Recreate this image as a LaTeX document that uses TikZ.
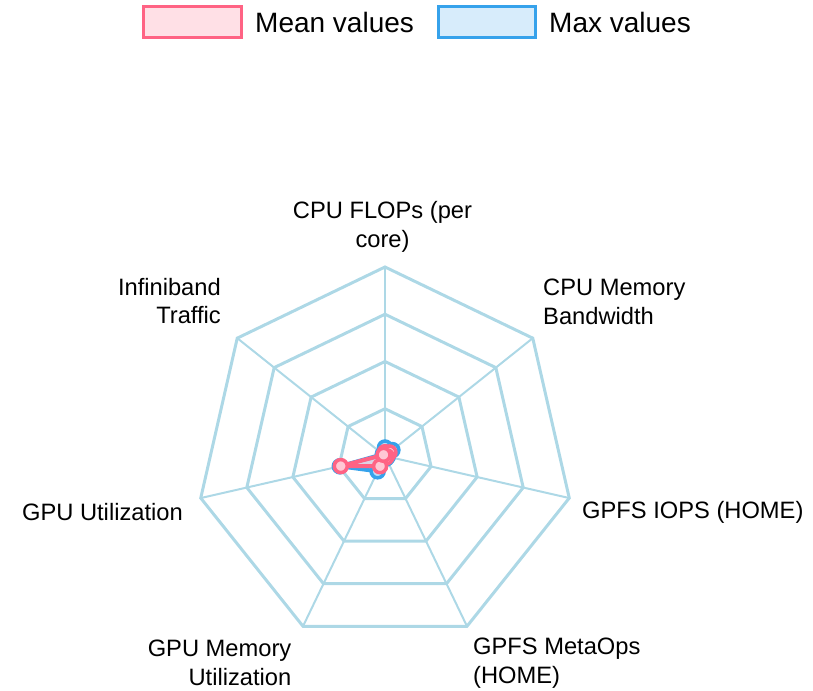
\documentclass[tikz,border=0pt]{standalone}
\usepackage{fontspec}
\setmainfont{Liberation Sans}
\definecolor{gridblue}{HTML}{ADD8E6}
\definecolor{meanpink}{HTML}{FF6384}
\definecolor{maxblue}{HTML}{36A2EB}
\begin{document}
\begin{tikzpicture}[x=1pt,y=1pt,
  ring/.style={draw=gridblue,line width=3pt,line join=miter},
  spoke/.style={draw=gridblue,line width=2pt},
  lbl/.style={inner sep=0pt,font=\fontsize{23.7}{28.5}\selectfont},
  legtext/.style={inner sep=0pt,anchor=west,font=\fontsize{28}{34}\selectfont},
  meanline/.style={draw=meanpink,line width=4pt,fill=meanpink,fill opacity=0.2,line join=round},
  maxline/.style={draw=maxblue,line width=4pt,fill=maxblue,fill opacity=0.2,line join=round},
  meanpt/.style={draw=meanpink,line width=3.5pt,fill=meanpink!35},
  maxpt/.style={draw=maxblue,line width=3.5pt,fill=maxblue!35}]
\useasboundingbox (0,0) rectangle (813,690);
\coordinate (C) at (385,234);
\def\R{189}
% grid
\foreach \i in {0,...,6}
  \draw[spoke] (C) -- ([shift={(C)}]{90-\i*360/7}:\R);
\foreach \k in {1,...,4}
  \draw[ring] ([shift={(C)}]90:{\k*\R/4})
    \foreach \i in {1,...,6}{ -- ([shift={(C)}]{90-\i*360/7}:{\k*\R/4})} -- cycle;
% axis labels
\node[lbl,align=center] (l0) at (382.5,463) {CPU FLOPs (per\\core)};
\node[lbl,align=left,anchor=west] (l1) at (543,388) {CPU Memory\\Bandwidth};
\node[lbl,anchor=west] (l2) at (582,178) {GPFS IOPS (HOME)};
\node[lbl,align=left,anchor=west] (l3) at (473,27) {GPFS MetaOps\\(HOME)};
\node[lbl,align=right,anchor=east] (l4) at (291.5,27) {GPU Memory\\Utilization};
\node[lbl,anchor=east] (l5) at (183,178) {GPU Utilization};
\node[lbl,align=right,anchor=east] (l6) at (221,389) {Infiniband\\Traffic};
% data: max values
\foreach \v [count=\i from 0] in {0.045,0.05,0.015,0.015,0.09,0.245,0.015}
  \coordinate (x\i) at ([shift={(C)}]{90-\i*360/7}:{\v*\R});
\draw[maxline] (x0) -- (x1) -- (x2) -- (x3) -- (x4) -- (x5) -- (x6) -- cycle;
\foreach \i in {0,...,6}
  \draw[maxpt] (x\i) circle[radius=6.5];
% data: mean values
\foreach \v [count=\i from 0] in {0.02,0.03,0.01,0.01,0.06,0.24,0.01}
  \coordinate (m\i) at ([shift={(C)}]{90-\i*360/7}:{\v*\R});
\draw[meanline] (m0) -- (m1) -- (m2) -- (m3) -- (m4) -- (m5) -- (m6) -- cycle;
\foreach \i in {0,...,6}
  \draw[meanpt] (m\i) circle[radius=6.5];
% legend
\node[draw=meanpink,fill=meanpink!20,line width=3pt,minimum width=98,minimum height=31,inner sep=0pt] (legmean) at (192,667.5) {};
\node[legtext] (legmeant) at (255,667.5) {Mean values};
\node[draw=maxblue,fill=maxblue!20,line width=3pt,minimum width=97,minimum height=31,inner sep=0pt] (legmax) at (486.5,667.5) {};
\node[legtext] (legmaxt) at (549,667.5) {Max values};
\end{tikzpicture}
\end{document}
